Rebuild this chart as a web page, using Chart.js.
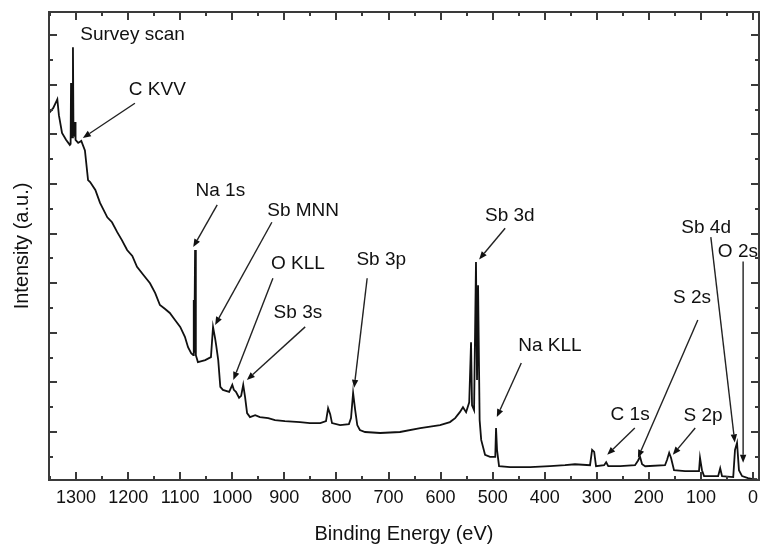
<!DOCTYPE html>
<html>
<head>
<meta charset="utf-8">
<script src="https://cdn.jsdelivr.net/npm/chart.js@4.4.1/dist/chart.umd.min.js"></script>
<style>
  html, body { margin: 0; padding: 0; background: #fff; }
  #wrap { width: 760px; height: 546px; }
</style>
</head>
<body>
<div id="wrap"><canvas id="myChart" width="760" height="546"></canvas></div>
<script>
// spectrum (binding energy in eV, intensity in a.u.)
var energy = [1352, 1344, 1336, 1333, 1327, 1319, 1312, 1310.5, 1309.7, 1309, 1307, 1306, 1305, 1303, 1302, 1301,
  1296, 1290, 1283, 1277, 1273, 1263, 1254, 1240, 1231, 1221, 1212, 1202, 1192, 1183, 1171, 1158, 1148,
  1139, 1129, 1120, 1110, 1100, 1091, 1085, 1079, 1075, 1074, 1073, 1071.5, 1070, 1066, 1052, 1041, 1037,
  1033, 1031, 1027, 1023, 1018, 1006, 1000, 997, 993, 987, 983, 979, 975.5, 971.6, 966, 956, 947, 931,
  918, 899, 870, 851, 831, 820, 816, 812, 808.5, 793, 776, 772, 768, 764, 760, 755, 745, 716, 678, 639,
  601, 582, 572, 563, 557, 551, 545, 541.5, 539.6, 535.7, 532, 530, 528, 525, 522, 514.6, 505, 495, 493.5,
  491.6, 487.7, 466.6, 428, 390, 361, 342, 313, 309, 305, 301.5, 286, 282, 278, 255, 226.6, 221, 217, 213,
  207, 169, 165, 161, 157.5, 151.7, 130.6, 103.7, 101.8, 98, 94, 67, 63, 59.5, 38, 34.6, 30.7, 27, 21,
  9.6, 0, -8];
var intensity = [7.43, 7.53, 7.71, 7.39, 7.03, 6.89, 6.79, 6.81, 8.04, 6.94, 6.94, 8.76, 7.04, 6.99, 7.25, 6.89,
  6.83, 6.87, 6.68, 6.08, 6.04, 5.88, 5.62, 5.33, 5.23, 5.03, 4.87, 4.67, 4.55, 4.33, 4.17, 4.00, 3.80,
  3.56, 3.48, 3.40, 3.26, 3.12, 2.92, 2.71, 2.59, 2.55, 3.66, 2.60, 4.67, 2.55, 2.41, 2.45, 2.51, 3.12,
  2.89, 2.75, 2.45, 1.91, 1.85, 1.81, 1.95, 1.85, 1.81, 1.69, 1.73, 1.95, 1.71, 1.38, 1.30, 1.34, 1.30, 1.28,
  1.24, 1.22, 1.20, 1.18, 1.18, 1.22, 1.48, 1.36, 1.18, 1.14, 1.16, 1.28, 1.79, 1.44, 1.14, 1.04, 1.00, 0.98, 1.00, 1.08,
  1.14, 1.20, 1.28, 1.40, 1.50, 1.40, 1.60, 2.81, 1.54, 1.44, 4.43, 2.05, 3.96, 1.24, 0.84, 0.54, 0.50, 0.50, 1.08,
  0.64, 0.31, 0.29, 0.29, 0.31, 0.33, 0.35, 0.33, 0.64, 0.60, 0.31, 0.33, 0.39, 0.31, 0.31, 0.33, 0.42, 0.50, 0.35,
  0.31, 0.33, 0.44, 0.58, 0.48, 0.23, 0.21, 0.21, 0.48, 0.23, 0.11, 0.11, 0.27, 0.11, 0.09, 0.64, 0.78, 0.23, 0.11,
  0.07, 0.05, 0.05];

// axis ticks
var xMajorTicks = [1300, 1200, 1100, 1000, 900, 800, 700, 600, 500, 400, 300, 200, 100, 0];
var xMinorTicks = [1350, 1250, 1150, 1050, 950, 850, 750, 650, 550, 450, 350, 250, 150, 50];
var yMajorTicks = [1, 2, 3, 4, 5, 6, 7, 8, 9];
var yMinorTicks = [0.5, 1.5, 2.5, 3.5, 4.5, 5.5, 6.5, 7.5, 8.5];

// peak labels: text anchor and arrow (from -> to), all in data units
var labels    = ['Survey scan', 'C KVV', 'Na 1s', 'Sb MNN', 'O KLL', 'Sb 3s', 'Sb 3p', 'Sb 3d', 'Na KLL', 'C 1s', 'S 2s', 'S 2p', 'Sb 4d', 'O 2s'];
var labelE    = [1292, 1144, 1023, 864, 874, 874, 714, 467, 390, 236, 117, 96, 90, 29];
var labelI    = [9.02, 7.91, 5.86, 5.47, 4.40, 3.40, 4.48, 5.36, 2.73, 1.34, 3.70, 1.32, 5.11, 4.64];
var arrowFromE = [null, 1187, 1029, 924, 922, 860, 741, 476, 445, 227, 106, 111, 81, 19];
var arrowFromI = [null, 7.63, 5.58, 5.23, 4.10, 3.12, 4.10, 5.11, 2.39, 1.08, 3.26, 1.08, 4.93, 4.44];
var arrowToE   = [null, 1287, 1075, 1033, 998, 972, 766, 526, 492, 280, 221, 154, 35, 19];
var arrowToI   = [null, 6.93, 4.73, 3.16, 2.05, 2.05, 1.89, 4.48, 1.30, 0.54, 0.48, 0.54, 0.79, 0.38];

var FONT = "'Liberation Sans', Arial, Helvetica, sans-serif";
var INK = '#111';

var points = energy.map(function (e, i) { return { x: e, y: intensity[i] }; });

// frame, inward ticks and the peak callouts
var decorations = {
    id: 'decorations',
    afterDatasetsDraw: function (chart) {
        var ctx = chart.ctx, a = chart.chartArea;
        var xs = chart.scales.x, ys = chart.scales.y;
        ctx.save();
        ctx.strokeStyle = '#3a3a3a';
        ctx.lineWidth = 2;
        ctx.strokeRect(a.left, a.top, a.right - a.left, a.bottom - a.top);

        function xtick(v, len) {
            var px = Math.round(xs.getPixelForValue(v));
            ctx.beginPath();
            ctx.moveTo(px, a.bottom); ctx.lineTo(px, a.bottom - len);
            ctx.moveTo(px, a.top); ctx.lineTo(px, a.top + len);
            ctx.stroke();
        }
        function ytick(v, len) {
            var py = Math.round(ys.getPixelForValue(v));
            ctx.beginPath();
            ctx.moveTo(a.left, py); ctx.lineTo(a.left + len, py);
            ctx.moveTo(a.right, py); ctx.lineTo(a.right - len, py);
            ctx.stroke();
        }
        xMajorTicks.forEach(function (v) { xtick(v, 8); });
        xMinorTicks.forEach(function (v) { xtick(v, 4); });
        yMajorTicks.forEach(function (v) { ytick(v, 8); });
        yMinorTicks.forEach(function (v) { ytick(v, 4); });

        // callouts
        ctx.fillStyle = INK;
        ctx.strokeStyle = '#222';
        ctx.font = '19px ' + FONT;
        ctx.textBaseline = 'middle';
        labels.forEach(function (txt, i) {
            var tx = xs.getPixelForValue(labelE[i]);
            var ty = ys.getPixelForValue(labelI[i]);
            ctx.textAlign = (i === 0) ? 'left' : 'center';
            ctx.fillText(txt, tx, ty);
            if (arrowFromE[i] === null) return;
            var x1 = xs.getPixelForValue(arrowFromE[i]), y1 = ys.getPixelForValue(arrowFromI[i]);
            var x2 = xs.getPixelForValue(arrowToE[i]), y2 = ys.getPixelForValue(arrowToI[i]);
            var ang = Math.atan2(y2 - y1, x2 - x1);
            var hl = 8, hw = 3.2;
            var bx = x2 - hl * Math.cos(ang), by = y2 - hl * Math.sin(ang);
            ctx.lineWidth = 1.4;
            ctx.beginPath();
            ctx.moveTo(x1, y1); ctx.lineTo(bx, by);
            ctx.stroke();
            ctx.beginPath();
            ctx.moveTo(x2, y2);
            ctx.lineTo(bx + hw * Math.sin(ang), by - hw * Math.cos(ang));
            ctx.lineTo(bx - hw * Math.sin(ang), by + hw * Math.cos(ang));
            ctx.closePath();
            ctx.fill();
        });
        ctx.restore();
    }
};

var config = {
    type: 'line',
    data: {
        datasets: [{
            data: points,
            borderColor: INK,
            borderWidth: 1.8,
            pointRadius: 0,
            tension: 0,
            fill: false
        }]
    },
    options: {
        responsive: false,
        animation: false,
        layout: { padding: { top: 12, right: 1, left: 0, bottom: 0 } },
        plugins: { legend: { display: false }, tooltip: { enabled: false } },
        scales: {
            x: {
                type: 'linear',
                reverse: true,
                min: -11.5,
                max: 1352,
                afterBuildTicks: function (scale) {
                    scale.ticks = xMajorTicks.map(function (v) { return { value: v }; });
                },
                afterFit: function (scale) {
                    scale.height = 66;
                    scale.paddingLeft = 0;
                    scale.paddingRight = 0;
                },
                grid: { display: false, drawTicks: false },
                border: { display: false },
                ticks: {
                    autoSkip: false,
                    maxRotation: 0,
                    padding: 7,
                    color: INK,
                    font: { family: FONT, size: 18 },
                    callback: function (v) { return String(v); }
                },
                title: {
                    display: true,
                    text: 'Binding Energy (eV)',
                    color: INK,
                    font: { family: FONT, size: 20 },
                    padding: { top: 0, bottom: 0 }
                }
            },
            y: {
                min: 0.032,
                max: 9.47,
                afterBuildTicks: function (scale) {
                    scale.ticks = yMajorTicks.map(function (v) { return { value: v }; });
                },
                afterFit: function (scale) {
                    scale.width = 49;
                    scale.paddingTop = 0;
                    scale.paddingBottom = 0;
                },
                grid: { display: false, drawTicks: false },
                border: { display: false },
                ticks: { display: false },
                title: {
                    display: true,
                    text: 'Intensity (a.u.)',
                    color: INK,
                    font: { family: FONT, size: 20 },
                    padding: { top: 10, bottom: 0 }
                }
            }
        }
    },
    plugins: [decorations]
};
var ctx = document.getElementById('myChart').getContext('2d');
var chart = new Chart(ctx, config);
</script>
</body>
</html>
